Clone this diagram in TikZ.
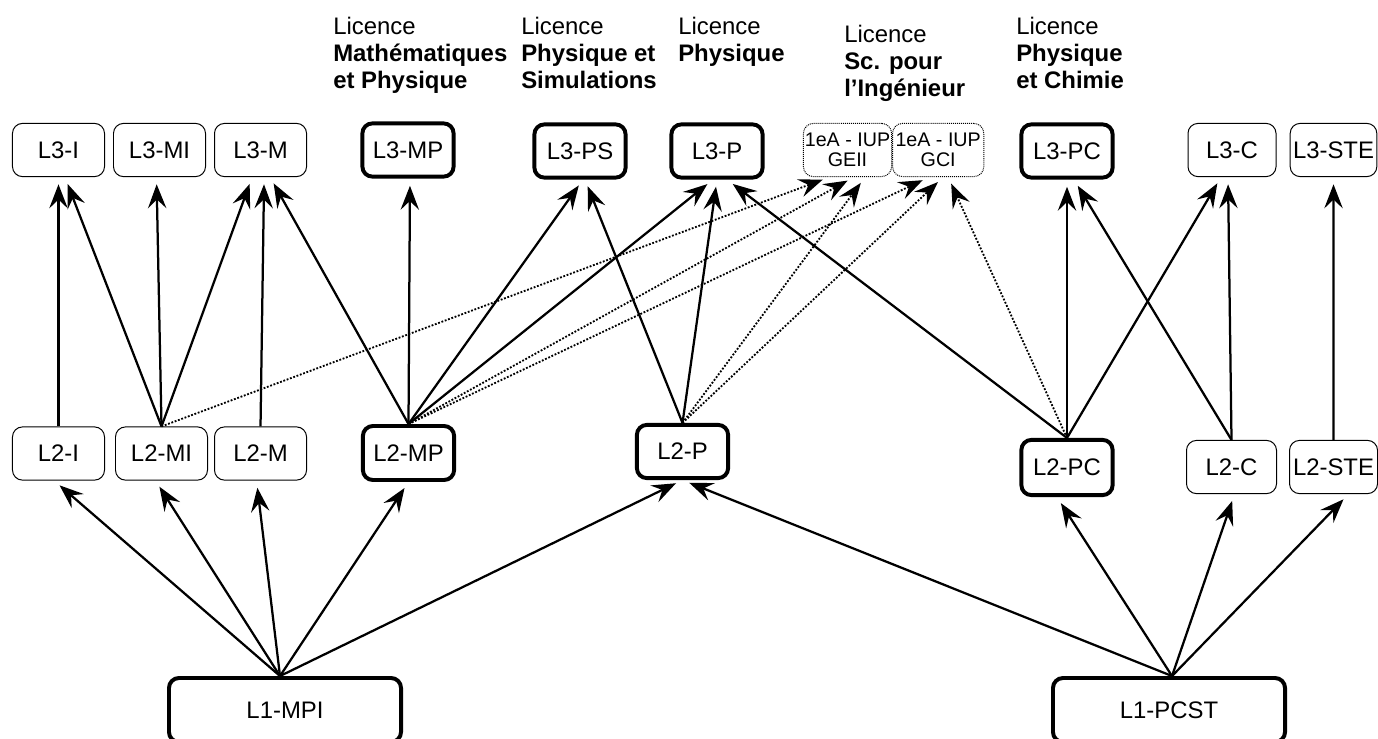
\documentclass[tikz,border=0pt]{standalone}
\usepackage{fontspec}
\setmainfont{Liberation Sans}
\usetikzlibrary{arrows.meta}
\usetikzlibrary{positioning}
\tikzset{box/.style={draw,rounded corners=0.25cm,minimum width=2.3cm,minimum height=1.33cm,inner sep=2pt,line width=0.7pt,font=\fontsize{17}{20}\selectfont}}
\tikzset{thick box/.style={box,line width=2.8pt,minimum width=2.28cm}}
\tikzset{iup box/.style={box,dash pattern=on 0.7pt off 0.7pt,font=\fontsize{14}{14.6}\selectfont,align=center,inner sep=1pt,minimum width=2.2cm}}
\tikzset{l1 box/.style={thick box,minimum width=5.8cm,minimum height=1.6cm}}
\tikzset{head/.style={anchor=north west,align=left,inner sep=0pt,font=\fontsize{17}{19.2}\selectfont}}
\tikzset{link/.style={-{Stealth[length=0.6cm,width=0.46cm,inset=0.22cm]},line width=1.6pt,shorten >=0.18cm}}
\tikzset{dlink/.style={link,line width=1.3pt,dash pattern=on 1.3pt off 1.2pt}}

\begin{document}
\begin{tikzpicture}[x=0.025cm,y=-0.025cm]
    \useasboundingbox (0,0) rectangle (1378,738);
    \clip (0,0) rectangle (1378,738);

    % titres des licences
    \node[head] (h-MP) at (333,17) {Licence\\\textbf{Mathématiques}\\\textbf{et Physique}};
    \node[head] (h-PS) at (521,17) {Licence\\\textbf{Physique et}\\\textbf{Simulations}};
    \node[head] (h-P) at (678,17) {Licence\\\textbf{Physique}};
    \node[head] (h-SPI) at (844,25) {Licence\\\textbf{Sc. pour}\\\textbf{l’Ingénieur}};
    \node[head] (h-PC) at (1016,17) {Licence\\\textbf{Physique}\\\textbf{et Chimie}};

    % L3
    \node[box] (L3-I) at (58.5,150) {L3-I};
    \node[box] (L3-MI) [right = 0.2cm of L3-I] {L3-MI};
    \node[box] (L3-M) [right = 0.2cm of L3-MI] {L3-M};
    \node[thick box] (L3-MP) at (408,150) {L3-MP};
    \node[thick box] (L3-PS) at (580,151) {L3-PS};
    \node[thick box] (L3-P) at (717,151) {L3-P};
    \node[iup box] (GEII) at (847.5,150) {1eA - IUP\\GEII};
    \node[iup box,minimum width=2.28cm] (GCI) [right = 0cm of GEII] {1eA - IUP\\GCI};
    \node[thick box] (L3-PC) at (1067,151) {L3-PC};
    \node[box,minimum width=2.2cm] (L3-C) at (1232,150) {L3-C};
    \node[box,minimum width=2.15cm] (L3-STE) at (1333.5,150) {L3-STE};

    % L2
    \node[box] (L2-I) at (58.5,453.5) {L2-I};
    \node[box] (L2-MI) [right = 0.25cm of L2-I] {L2-MI};
    \node[box] (L2-M) [right = 0.15cm of L2-MI] {L2-M};
    \node[thick box,minimum height=1.35cm] (L2-MP) at (408.5,453) {L2-MP};
    \node[thick box,minimum height=1.33cm] (L2-P) at (682.5,451.5) {L2-P};
    \node[thick box,minimum height=1.38cm] (L2-PC) at (1067,467.5) {L2-PC};
    \node[box,minimum width=2.25cm] (L2-C) at (1231.5,467) {L2-C};
    \node[box,minimum width=2.2cm] (L2-STE) [right = 0.3cm of L2-C] {L2-STE};

    % L1
    \node[l1 box] (L1-MPI) at (285,710) {L1-MPI};
    \node[l1 box] (L1-PCST) at (1169,710) {L1-PCST};

    \path [link]
    (L2-I.north) edge (L3-I.south)
    (L2-MI.north) edge ([xshift=0.16cm]L3-I.south)
    (L2-MI.north) edge ([xshift=-0.075cm]L3-MI.south)
    (L2-MI.north) edge ([xshift=-0.21cm]L3-M.south)
    (L2-M.north) edge ([xshift=0.09cm]L3-M.south)
    (L2-MP.north) edge ([xshift=0.24cm]L3-M.south)
    (L2-MP.north) edge ([xshift=0.05cm]L3-MP.south)
    (L2-MP.north) edge ([xshift=0.075cm]L3-PS.south)
    (L2-MP.north) edge ([xshift=-0.1cm]L3-P.south)
    (L2-P.north) edge ([xshift=0.125cm]L3-PS.south)
    (L2-P.north) edge (L3-P.south)
    (L2-PC.north) edge ([xshift=0.25cm]L3-P.south)
    (L2-PC.north) edge (L3-PC.south)
    (L2-PC.north) edge ([xshift=-0.275cm]L3-C.south)
    (L2-C.north) edge ([xshift=0.175cm]L3-PC.south)
    (L2-C.north) edge ([xshift=-0.1cm]L3-C.south)
    (L2-STE.north) edge (L3-STE.south);

    \path [dlink]
    (L2-MI.north) edge ([xshift=-0.45cm]GEII.south)
    (L2-MP.north) edge ([xshift=0.16cm]GEII.south)
    (L2-P.north) edge ([xshift=0.44cm]GEII.south)
    (L2-MP.north) edge ([xshift=-0.225cm]GCI.south)
    (L2-P.north) edge ([xshift=0.125cm]GCI.south)
    (L2-PC.north) edge ([xshift=0.25cm]GCI.south);

    \path [link]
    ([xshift=-0.125cm]L1-MPI.north) edge ([xshift=-0.11cm]L2-I.south)
    ([xshift=-0.125cm]L1-MPI.north) edge ([xshift=-0.15cm]L2-MI.south)
    ([xshift=-0.125cm]L1-MPI.north) edge ([xshift=-0.1cm]L2-M.south)
    ([xshift=-0.125cm]L1-MPI.north) edge (L2-MP.south)
    ([xshift=-0.125cm]L1-MPI.north) edge (L2-P.south)
    ([xshift=0.075cm]L1-PCST.north) edge (L2-P.south)
    ([xshift=0.075cm]L1-PCST.north) edge ([xshift=-0.25cm]L2-PC.south)
    ([xshift=0.075cm]L1-PCST.north) edge ([xshift=0.075cm]L2-C.south)
    ([xshift=0.075cm]L1-PCST.north) edge ([xshift=0.375cm]L2-STE.south);

\end{tikzpicture}
\end{document}
